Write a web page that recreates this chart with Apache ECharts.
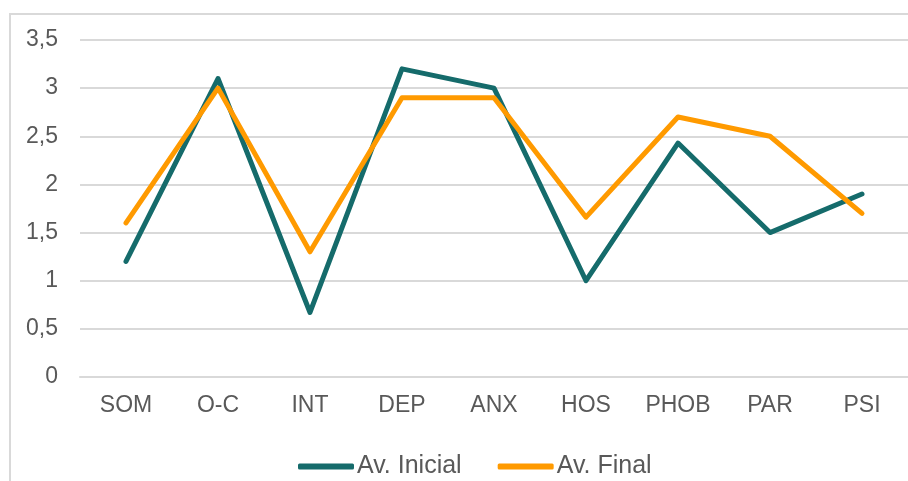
<!DOCTYPE html>
<html>
<head>
    <meta charset="utf-8">
    <title>Av. Inicial / Av. Final</title>
    <script src="https://cdn.jsdelivr.net/npm/echarts@6/dist/echarts.min.js"></script>
    <style>
        html, body { margin: 0; padding: 0; background: #fff; }
        .frame {
            position: absolute;
            left: 9px; top: 13px;
            width: 1000px; height: 600px;
            border: 2px solid #d9d9d9;
            box-sizing: border-box;
        }
        #chart { position: absolute; left: 0; top: 0; width: 908px; height: 481px; }
    </style>
</head>
<body>
<div class="frame"></div>
<div id="chart"></div>
<script>
    var categories = ['SOM', 'O-C', 'INT', 'DEP', 'ANX', 'HOS', 'PHOB', 'PAR', 'PSI'];
    var avInicial = [1.2, 3.1, 0.67, 3.2, 3.0, 1.0, 2.43, 1.5, 1.9];
    var avFinal = [1.6, 3.0, 1.3, 2.9, 2.9, 1.66, 2.7, 2.5, 1.7];
    var seriesNames = ['Av. Inicial', 'Av. Final'];

    var myChart = echarts.init(document.getElementById('chart'));
    var font = '"Liberation Sans", Arial, sans-serif';
    var option = {
        animation: false,
        textStyle: { fontFamily: font },
        legend: {
            top: 449,
            left: 293,
            padding: [5, 5, 5, 5],
            itemWidth: 56,
            itemHeight: 6,
            itemGap: 36,
            icon: 'roundRect',
            textStyle: { fontSize: 25, color: '#595959', fontFamily: font, padding: [0, 0, 0, -2] },
            data: seriesNames
        },
        grid: { left: 80, right: 0, top: 40, bottom: 104, containLabel: false },
        xAxis: {
            type: 'category',
            data: categories,
            axisLine: { show: true, lineStyle: { color: '#d9d9d9', width: 2 } },
            axisTick: { show: false },
            axisLabel: { color: '#595959', fontSize: 23, margin: 17, fontFamily: font }
        },
        yAxis: {
            type: 'value',
            min: 0, max: 3.5, interval: 0.5,
            axisLine: { show: false },
            axisTick: { show: false },
            splitLine: { lineStyle: { color: '#d9d9d9', width: 2 } },
            axisLabel: {
                color: '#595959', fontSize: 23, margin: 22, fontFamily: font,
                formatter: function (v) { return String(v).replace('.', ','); }
            }
        },
        series: [
            {
                name: seriesNames[0], type: 'line', data: avInicial,
                symbol: 'none', color: '#156b6b',
                lineStyle: { width: 5, cap: 'round', join: 'round' }
            },
            {
                name: seriesNames[1], type: 'line', data: avFinal,
                symbol: 'none', color: '#ff9a00',
                lineStyle: { width: 5, cap: 'round', join: 'round' }
            }
        ]
    };
    myChart.setOption(option);
</script>
</body>
</html>
